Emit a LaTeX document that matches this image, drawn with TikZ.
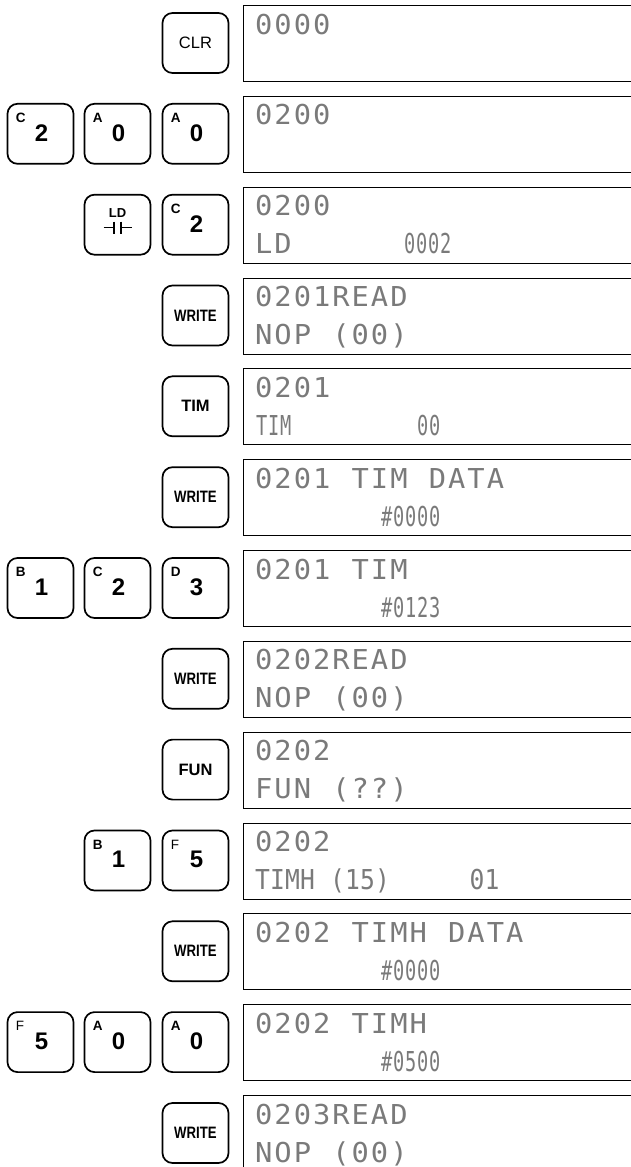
\documentclass[tikz,border=0pt]{standalone}
\usepackage{fontspec}
\usepackage{graphicx}
\setmainfont{Liberation Sans}
\newfontfamily\lcdbigfont[FakeStretch=1.05]{DejaVu Sans Mono}
\newfontfamily\lcdmidfont[FakeStretch=0.9]{DejaVu Sans Mono}
\newfontfamily\lcdsmallfont[FakeStretch=0.68]{DejaVu Sans Mono}
\newlength\lcdpitch
\def\lcdloop#1{\ifx#1\relax\else\makebox[\lcdpitch][l]{#1}\expandafter\lcdloop\fi}
\newcommand\lcdB[1]{{\lcdbigfont\fontsize{27.4}{27.4}\selectfont\setlength\lcdpitch{19.3pt}\lcdloop#1\relax}}
\newcommand\lcdM[1]{{\lcdmidfont\fontsize{27.4}{27.4}\selectfont\setlength\lcdpitch{15pt}\lcdloop#1\relax}}
\newcommand\lcdS[1]{{\lcdsmallfont\fontsize{27.4}{27.4}\selectfont\setlength\lcdpitch{12pt}\lcdloop#1\relax}}
\tikzset{
  keybox/.style={draw, line width=1.7pt, rounded corners=10pt, minimum width=66pt, minimum height=60pt, inner sep=0pt},
  lcdbox/.style={draw, line width=1pt, minimum width=420pt, minimum height=76pt, anchor=north west, inner sep=0pt},
  lcdtxt/.style={anchor=base west, inner sep=0pt, text=black!52},
  keynum/.style={font=\bfseries\fontsize{24}{24}\selectfont, inner sep=0pt},
  keylet/.style={font=\bfseries\fontsize{13.5}{13.5}\selectfont, inner sep=0pt, anchor=north west},
  keyword/.style={font=\bfseries\fontsize{16.5}{16.5}\selectfont, inner sep=0pt},
  contact/.style={line width=1.4pt}
}
\newcommand\numkey[5]{%
  \node[keybox] (#1) at (#2,#3) {};
  \node[keylet] (#1l) at ([xshift=9pt,yshift=-10pt]#1.north west) {#4};
  \node[keynum] (#1n) at ([xshift=1pt,yshift=1pt]#1.center) {#5};
}
\newcommand\wordkey[4]{%
  \node[keybox] (#1) at (#2,#3) {};
  \node[keyword] (#1w) at (#1.center) {#4};
}
\begin{document}
\begin{tikzpicture}[x=1pt,y=-1pt]
\useasboundingbox (0,0) rectangle (631,1167);
% ---------- displays ----------
\node[lcdbox] (d0)  at (243,5) {};
\node[lcdbox] (d1)  at (243,95.8) {};
\node[lcdbox] (d2)  at (243,186.7) {};
\node[lcdbox] (d3)  at (243,277.5) {};
\node[lcdbox] (d4)  at (243,368.3) {};
\node[lcdbox] (d5)  at (243,459.2) {};
\node[lcdbox] (d6)  at (243,550) {};
\node[lcdbox] (d7)  at (243,640.8) {};
\node[lcdbox] (d8)  at (243,731.6) {};
\node[lcdbox] (d9)  at (243,822.5) {};
\node[lcdbox] (d10) at (243,913.3) {};
\node[lcdbox] (d11) at (243,1004.1) {};
\node[lcdbox] (d12) at (243,1095) {};
% ---------- row 0 ----------
\node[keybox] (clr) at (195.5,43) {};
\node[font=\fontsize{16.5}{16.5}\selectfont, inner sep=0pt] (clrw) at (clr.center) {CLR};
\node[lcdtxt] (t0a) at (255,34) {\lcdB{0000}};
% ---------- row 1 ----------
\numkey{k1a}{40.5}{133.8}{C}{2}
\numkey{k1b}{117.5}{133.8}{A}{0}
\numkey{k1c}{195.5}{133.8}{A}{0}
\node[lcdtxt] (t1a) at (255,124.8) {\lcdB{0200}};
% ---------- row 2 ----------
\node[keybox] (ld) at (117.5,224.7) {};
\node[font=\bfseries\fontsize{13}{13}\selectfont, inner sep=0pt] (ldw) at ([yshift=12pt]ld.center) {LD};
\coordinate (ldc) at ([yshift=-3pt]ld.center);
\draw[contact] ([xshift=-14pt]ldc) -- ([xshift=-3.5pt]ldc);
\draw[contact] ([xshift=3.5pt]ldc) -- ([xshift=14pt]ldc);
\draw[contact] ([xshift=-3.5pt,yshift=6pt]ldc) -- ([xshift=-3.5pt,yshift=-6pt]ldc);
\draw[contact] ([xshift=3.5pt,yshift=6pt]ldc) -- ([xshift=3.5pt,yshift=-6pt]ldc);
\numkey{k2c}{195.5}{224.7}{C}{2}
\node[lcdtxt] (t2a) at (255,215.7) {\lcdB{0200}};
\node[lcdtxt] (t2b) at (255,253.7) {\lcdB{LD}};
\node[lcdtxt] (t2c) at (404,253.7) {\lcdS{0002}};
% ---------- row 3 ----------
\wordkey{w3}{195.5}{315.5}{\scalebox{0.8}[1]{WRITE}}
\node[lcdtxt] (t3a) at (255,306.5) {\lcdB{0201READ}};
\node[lcdtxt] (t3b) at (255,344.5) {\lcdB{NOP}};
\node[lcdtxt] (t3c) at (332.2,344.5) {\lcdB{(00)}};
% ---------- row 4 ----------
\wordkey{w4}{195.5}{406.3}{TIM}
\node[lcdtxt] (t4a) at (255,397.3) {\lcdB{0201}};
\node[lcdtxt] (t4b) at (256,435.3) {\lcdS{TIM}};
\node[lcdtxt] (t4c) at (417,435.3) {\lcdS{00}};
% ---------- row 5 ----------
\wordkey{w5}{195.5}{497.2}{\scalebox{0.8}[1]{WRITE}}
\node[lcdtxt] (t5a) at (255,488.2) {\lcdB{0201}};
\node[lcdtxt] (t5b) at (351.5,488.2) {\lcdB{TIM}};
\node[lcdtxt] (t5c) at (428.7,488.2) {\lcdB{DATA}};
\node[lcdtxt] (t5d) at (381,526.2) {\lcdS{\#0000}};
% ---------- row 6 ----------
\numkey{k6a}{40.5}{588}{B}{1}
\numkey{k6b}{117.5}{588}{C}{2}
\numkey{k6c}{195.5}{588}{D}{3}
\node[lcdtxt] (t6a) at (255,579) {\lcdB{0201}};
\node[lcdtxt] (t6b) at (351.5,579) {\lcdB{TIM}};
\node[lcdtxt] (t6c) at (381,617) {\lcdS{\#0123}};
% ---------- row 7 ----------
\wordkey{w7}{195.5}{678.8}{\scalebox{0.8}[1]{WRITE}}
\node[lcdtxt] (t7a) at (255,669.8) {\lcdB{0202READ}};
\node[lcdtxt] (t7b) at (255,707.8) {\lcdB{NOP}};
\node[lcdtxt] (t7c) at (332.2,707.8) {\lcdB{(00)}};
% ---------- row 8 ----------
\wordkey{w8}{195.5}{769.6}{FUN}
\node[lcdtxt] (t8a) at (255,760.6) {\lcdB{0202}};
\node[lcdtxt] (t8b) at (255,798.6) {\lcdB{FUN}};
\node[lcdtxt] (t8c) at (332.2,798.6) {\lcdB{(??)}};
% ---------- row 9 ----------
\numkey{k9b}{117.5}{860.5}{B}{1}
\numkey{k9c}{195.5}{860.5}{\mdseries F}{5}
\node[lcdtxt] (t9a) at (255,851.5) {\lcdB{0202}};
\node[lcdtxt] (t9b) at (255,889.5) {\lcdM{TIMH}};
\node[lcdtxt] (t9c) at (330,889.5) {\lcdM{(15)}};
\node[lcdtxt] (t9d) at (469.5,889.5) {\lcdM{01}};
% ---------- row 10 ----------
\wordkey{w10}{195.5}{951.3}{\scalebox{0.8}[1]{WRITE}}
\node[lcdtxt] (t10a) at (255,942.3) {\lcdB{0202}};
\node[lcdtxt] (t10b) at (351.5,942.3) {\lcdB{TIMH}};
\node[lcdtxt] (t10c) at (448,942.3) {\lcdB{DATA}};
\node[lcdtxt] (t10d) at (381,980.3) {\lcdS{\#0000}};
% ---------- row 11 ----------
\numkey{k11a}{40.5}{1042.1}{\mdseries F}{5}
\numkey{k11b}{117.5}{1042.1}{A}{0}
\numkey{k11c}{195.5}{1042.1}{A}{0}
\node[lcdtxt] (t11a) at (255,1033.1) {\lcdB{0202}};
\node[lcdtxt] (t11b) at (351.5,1033.1) {\lcdB{TIMH}};
\node[lcdtxt] (t11c) at (381,1071.1) {\lcdS{\#0500}};
% ---------- row 12 ----------
\wordkey{w12}{195.5}{1133}{\scalebox{0.8}[1]{WRITE}}
\node[lcdtxt] (t12a) at (255,1124) {\lcdB{0203READ}};
\node[lcdtxt] (t12b) at (255,1162) {\lcdB{NOP}};
\node[lcdtxt] (t12c) at (332.2,1162) {\lcdB{(00)}};
\end{tikzpicture}
\end{document}
